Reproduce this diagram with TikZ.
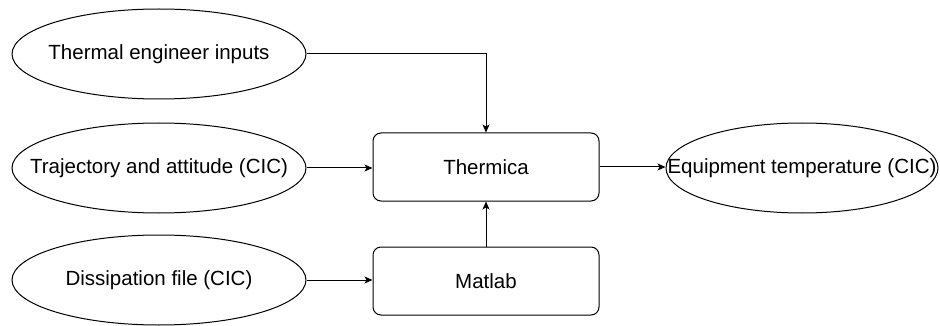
\documentclass[tikz,border=0pt]{standalone}
\usepackage{fontspec}
\setmainfont{Liberation Sans}
\usetikzlibrary{arrows.meta}
\usetikzlibrary{shapes.geometric}

\begin{document}
\begin{tikzpicture}[x=1pt,y=-1pt,
        source/.style={ellipse,draw,line width=1pt,minimum width=294pt,minimum height=90pt,inner xsep=-50pt,inner ysep=0pt,font=\fontsize{20.5}{23}\selectfont},
        tool/.style={rectangle,draw,rounded corners=8pt,line width=1pt,minimum width=226pt,minimum height=68pt,inner sep=0pt,font=\fontsize{20.5}{23}\selectfont},
        flow/.style={line width=1pt,-{Stealth[length=8pt,width=7pt,inset=2pt]}}]
            \useasboundingbox (0,0) rectangle (940,326);
            \node[source] (engineer) at (159,54) {Thermal engineer inputs};
            \node[source] (trajectory) at (159,168) {Trajectory and attitude (CIC)};
            \node[source] (dissipation) at (159,280) {Dissipation file (CIC)};
            \node[tool] (thermica) at (486,167) {Thermica};
            \node[tool] (matlab) at (486,281) {Matlab};
            \node[source,minimum width=272pt] (equipment) at (802,168) {Equipment temperature (CIC)};
            \draw[flow] (engineer.east) -| (thermica.north);
            \draw[flow] (trajectory.east) -- (trajectory.east -| thermica.west);
            \draw[flow] (dissipation.east) -- (dissipation.east -| matlab.west);
            \draw[flow] (matlab) -- (thermica);
            \draw[flow] (thermica.east) -- (thermica.east -| equipment.west);
        \end{tikzpicture}
\end{document}
